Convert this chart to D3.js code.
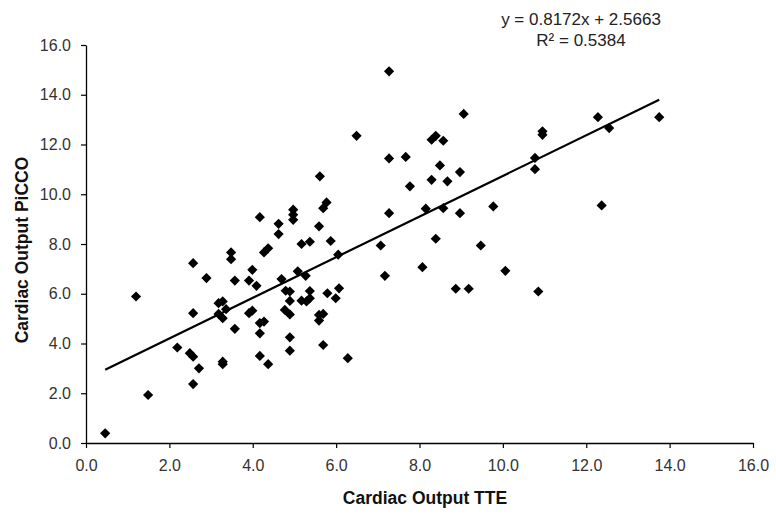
<!DOCTYPE html>
<html>
<head>
<meta charset="utf-8">
<script src="https://cdn.jsdelivr.net/npm/d3@7"></script>
<style>
  body { margin: 0; background: #fff; }
  svg { font-family: "Liberation Sans", Arial, sans-serif; }
</style>
</head>
<body>
<div class="chart"></div>
<script>
// cardiac output: TTE (x) vs PiCCO (y)
var tteValues = [
  0.46, 1.20, 1.49, 2.19, 2.49, 2.57, 2.57, 2.57, 2.57, 2.71, 2.89, 3.18, 3.28, 3.18, 3.28,
  3.28, 3.28, 3.36, 3.57, 3.57, 3.48, 3.48, 3.91, 3.99, 4.09, 3.91, 3.99,
  4.17, 4.27, 4.17, 4.17, 4.37, 4.17, 4.27, 4.37, 4.62, 4.62, 4.69, 4.79, 4.89, 4.89,
  4.77, 4.89, 4.89, 4.89, 4.97, 4.97, 4.97,
  5.08, 5.27, 5.17, 5.37, 5.17, 5.29, 5.37, 5.37, 5.61, 5.69, 5.77, 5.59, 5.87, 6.05,
  5.79, 6.07, 5.99, 5.59, 5.69, 5.59, 5.69, 6.28, 6.49,
  7.27, 7.27, 7.67, 7.27, 7.07, 7.17, 7.77, 8.07, 8.15, 8.29, 8.39, 8.57, 8.49, 8.29,
  8.67, 8.39, 8.57, 8.97, 8.97, 8.87, 9.18, 9.06, 9.47, 9.77, 10.06, 10.77, 10.77,
  10.85, 10.95, 10.95, 12.28, 12.37, 12.55, 13.75
];
var piccoValues = [
  0.39, 5.89, 1.93, 3.84, 3.61, 3.47, 7.23, 5.22, 2.37, 3.00, 6.63, 5.62, 5.69, 5.19, 5.02,
  3.27, 3.17, 5.38, 6.53, 4.59, 7.66, 7.39, 6.53, 6.96, 6.32, 5.22, 5.32,
  4.82, 4.88, 4.41, 3.50, 3.17, 9.08, 7.66, 7.83, 8.81, 8.40, 6.59, 6.12, 6.09, 5.71,
  5.35, 5.17, 4.25, 3.71, 9.38, 9.18, 8.97,
  6.90, 6.72, 8.00, 8.09, 5.72, 5.69, 5.82, 6.11, 10.72, 9.44, 9.67, 8.71, 8.12, 7.57,
  6.02, 6.22, 5.82, 5.15, 5.19, 4.92, 3.94, 3.41, 12.35,
  14.94, 11.44, 11.50, 9.24, 7.94, 6.72, 10.32, 7.07, 9.42, 12.19, 12.35, 12.15, 11.16, 10.58,
  10.52, 8.21, 9.44, 10.89, 9.24, 6.20, 6.20, 13.23, 7.94, 9.51, 6.92, 11.46, 11.01,
  6.09, 12.53, 12.39, 13.10, 9.55, 12.66, 13.10
];
var xTicks = [0, 2, 4, 6, 8, 10, 12, 14, 16];
var yTicks = [0, 2, 4, 6, 8, 10, 12, 14, 16];
var trendSlope = 0.8172;
var trendIntercept = 2.5663;
var trendLabels = ["y = 0.8172x  + 2.5663", "R\u00b2 = 0.5384"];

var width = 776, height = 515;
var margin = { left: 86, right: 23, top: 45, bottom: 72 };

var svg = d3.select(".chart").append("svg")
  .attr("width", width).attr("height", height);

var x = d3.scaleLinear().domain([0, 16]).range([margin.left, width - margin.right]);
var y = d3.scaleLinear().domain([0, 16]).range([height - margin.bottom, margin.top]);

var points = tteValues.map(function(v, i) { return { x: v, y: piccoValues[i] }; });

// axes
var xAxis = svg.append("g")
  .attr("transform", "translate(0," + y(0) + ")")
  .call(d3.axisBottom(x).tickValues(xTicks).tickSize(5).tickSizeOuter(0).tickFormat(d3.format(".1f")));
var yAxis = svg.append("g")
  .attr("transform", "translate(" + x(0) + ",0)")
  .call(d3.axisLeft(y).tickValues(yTicks).tickSize(5).tickSizeOuter(0).tickFormat(d3.format(".1f")));

[xAxis, yAxis].forEach(function(ax) {
  ax.select(".domain").attr("stroke", "#000").attr("stroke-width", 1.3);
  ax.selectAll(".tick line").attr("stroke", "#000").attr("stroke-width", 1.2);
  ax.selectAll(".tick text").attr("fill", "#333").style("font-size", "16px");
});
xAxis.selectAll(".tick text").attr("dy", "0.71em").attr("y", 17);
yAxis.selectAll(".tick text").attr("x", -15);

// trend line
var xMin = d3.min(tteValues), xMax = d3.max(tteValues);
svg.append("line")
  .attr("x1", x(xMin)).attr("y1", y(trendSlope * xMin + trendIntercept))
  .attr("x2", x(xMax)).attr("y2", y(trendSlope * xMax + trendIntercept))
  .attr("stroke", "#000").attr("stroke-width", 2.2);

// diamond markers
var diamond = d3.symbol().type(d3.symbolSquare).size(52);
svg.append("g").selectAll("path")
  .data(points)
  .join("path")
  .attr("d", diamond)
  .attr("transform", function(d) { return "translate(" + x(d.x) + "," + y(d.y) + ") rotate(45)"; })
  .attr("fill", "#000");

// equation
svg.append("g").selectAll("text")
  .data(trendLabels)
  .join("text")
  .attr("x", 581)
  .attr("y", function(d, i) { return 25 + i * 21; })
  .attr("text-anchor", "middle")
  .attr("fill", "#222")
  .style("font-size", "17px")
  .text(function(d) { return d; });

// axis titles
svg.append("text")
  .attr("x", 425).attr("y", 504)
  .attr("text-anchor", "middle")
  .style("font-size", "17.5px").style("font-weight", "bold")
  .attr("fill", "#111")
  .text("Cardiac Output TTE");
svg.append("text")
  .attr("transform", "translate(28,250) rotate(-90)")
  .attr("text-anchor", "middle")
  .style("font-size", "17.5px").style("font-weight", "bold")
  .attr("fill", "#111")
  .text("Cardiac Output PiCCO");
</script>
</body>
</html>
